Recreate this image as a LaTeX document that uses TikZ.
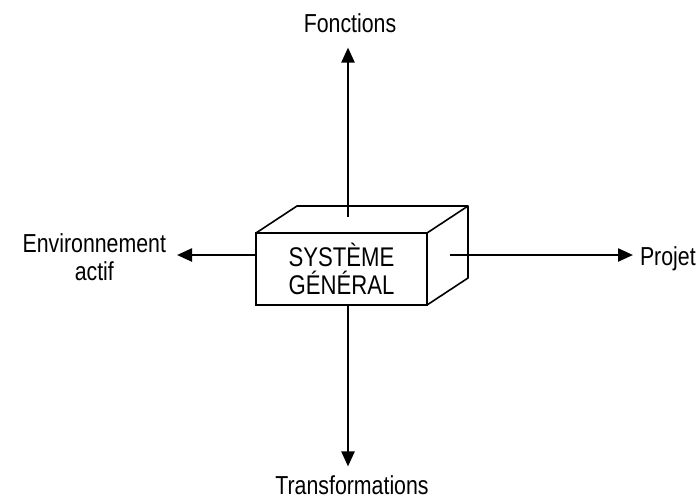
\documentclass[tikz,border=0pt]{standalone}
\usepackage{fontspec}
\setmainfont{Liberation Sans}[FakeStretch=0.82]
\usepackage{tikz}
\usetikzlibrary{calc,positioning,arrows.meta}

\begin{document}
\begin{tikzpicture}[x=1pt,y=-1pt,
    >={Triangle[length=15pt,width=13pt]},
    every node/.style={inner sep=0pt, outer sep=0pt, font=\fontsize{26}{28}\selectfont},
    lbl/.style={align=center},
    axis/.style={->, line width=2.4pt}]

  \useasboundingbox (0,0) rectangle (700,501);

  % box
  \node(A)[draw, line width=1.6pt, minimum width=171pt, minimum height=72pt, align=center,
           font=\fontsize{27}{28}\selectfont] at (341.5,269) {SYSTÈME\\GÉNÉRAL};
  \draw[line width=1.6pt, line join=round] (A.north west) -- ++(41,-27) -- ++(171,0) -- ++(0,72) -- (A.south east);
  \draw[line width=1.6pt] (A.north east) -- ++(41,-27);

  % labels
  \node(B)[lbl] at (350,23)  {Fonctions};
  \node(C)[lbl] at (352,485) {Transformations};
  \node(D)[lbl, anchor=east] at (166,257) {Environnement\\actif};
  \node(E)[lbl, anchor=base west] at (640,265) {Projet};

  \coordinate(T) at (348,217);
  \coordinate(L) at (255,255);
  \coordinate(R) at (450,255);

  \draw[axis, shorten >=15pt] (T) -- (T |- B.south);
  \draw[axis, shorten >=9pt] (A.south -| T) -- (T |- C.north);
  \draw[axis, shorten >=11pt] (L) -- (L -| D.east);
  \draw[axis, shorten >=7pt]  (R) -- (R -| E.west);
\end{tikzpicture}
\end{document}
